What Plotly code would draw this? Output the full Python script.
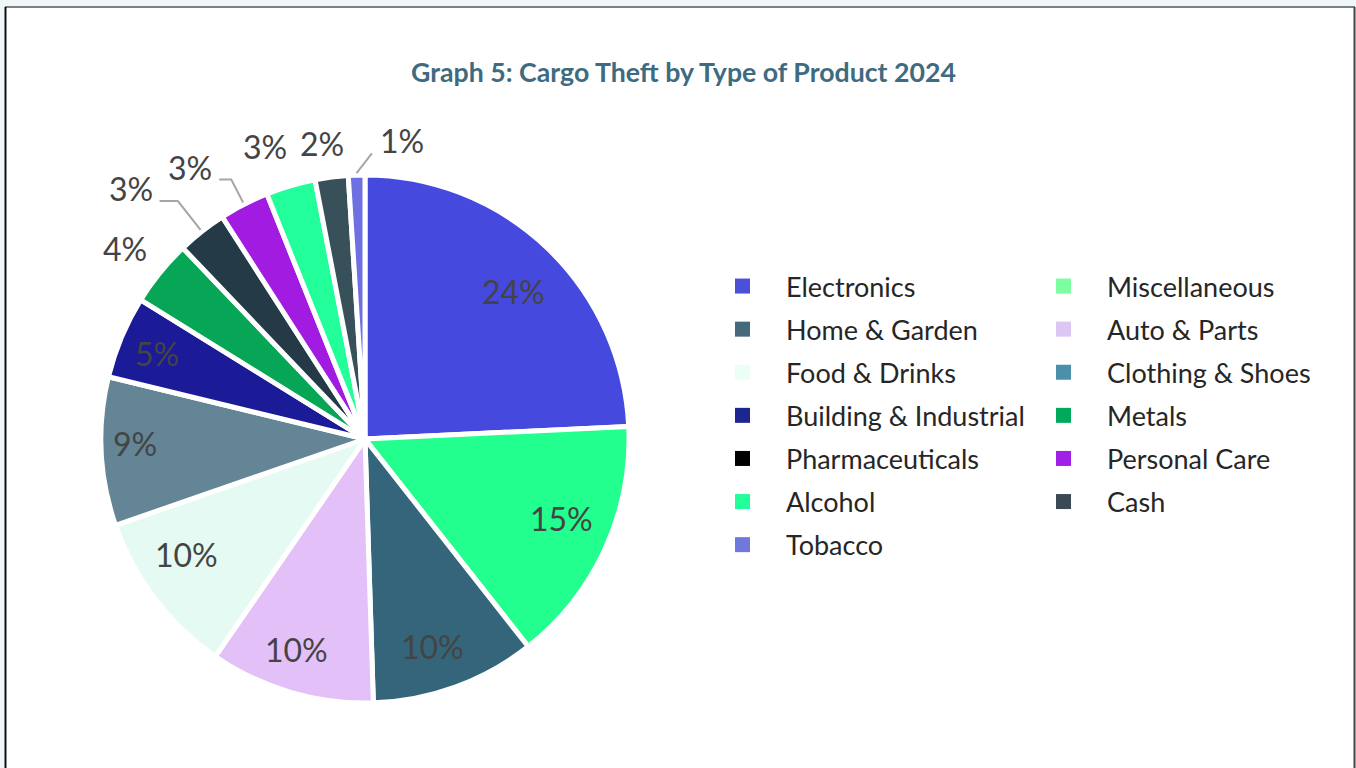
import math
import plotly.graph_objects as go

# ---- data (slice order, clockwise from 12 o'clock) ----
categories = ["Electronics", "Alcohol", "Home & Garden", "Auto & Parts", "Food & Drinks",
              "Clothing & Shoes", "Building & Industrial", "Metals", "Pharmaceuticals",
              "Personal Care", "Miscellaneous", "Cash", "Tobacco"]
shares = [24, 15, 10, 10, 10, 9, 5, 4, 3, 3, 3, 2, 1]

slice_colors = ["#4549dd", "#22ff8e", "#35657a", "#e3c1f8", "#e5faf2",
                "#638596", "#1b1b98", "#07a656", "#243b47",
                "#a11be0", "#22ff9a", "#37505a", "#6e6fe0"]

# ---- legend (as shown, two columns) ----
legend_col1 = ["Electronics", "Home & Garden", "Food & Drinks", "Building & Industrial",
               "Pharmaceuticals", "Alcohol", "Tobacco"]
legend_col1_colors = ["#4a50d8", "#466a7c", "#eafff5", "#1c2590", "#000000", "#22ff9a", "#7078dc"]
legend_col2 = ["Miscellaneous", "Auto & Parts", "Clothing & Shoes", "Metals", "Personal Care", "Cash"]
legend_col2_colors = ["#7cffa0", "#dcc6f4", "#4a90aa", "#00aa5a", "#a020e8", "#3a4a55"]

W, H = 1356, 768
cx, cy, R = 365, 439, 264          # pie centre / radius in pixels


def px(x):
    return x / W


def py(y):
    return (H - y) / H


# slice mid angles (degrees clockwise from 12 o'clock), from the data
total = sum(shares)
mids, acc = [], 0.0
for v in shares:
    mids.append((acc + v / 2) / total * 360.0)
    acc += v


def polar(angle_deg, dist):
    a = math.radians(angle_deg)
    return cx + dist * math.sin(a), cy - dist * math.cos(a)


# label placement: (angle nudge, distance from centre, connector style)
label_layout = {
    "Electronics": (1.8, 208, None),
    "Alcohol": (-2.1, 213, None),
    "Home & Garden": (2.0, 220, None),
    "Auto & Parts": (1.6, 223, None),
    "Food & Drinks": (4.0, 213, None),
    "Clothing & Shoes": (1.2, 230, None),
    "Building & Industrial": (-0.7, 224, None),
    "Metals": (-0.9, 305, None),
    "Pharmaceuticals": (-5.1, 342, "elbow"),
    "Personal Care": (-5.6, 322, "elbow"),
    "Miscellaneous": (-2.6, 308, None),
    "Cash": (-1.0, 297, None),
    "Tobacco": (8.9, 299, "straight"),
}

fig = go.Figure()
fig.add_trace(go.Pie(
    labels=categories, values=shares, sort=False, direction="clockwise", rotation=0,
    marker=dict(colors=slice_colors, line=dict(color="white", width=5)),
    textinfo="none", hoverinfo="label+percent", showlegend=False,
    domain=dict(x=[px(cx - R), px(cx + R)], y=[py(cy + R), py(cy - R)]),
))

for names, cols, lg in [(legend_col1, legend_col1_colors, "legend"),
                        (legend_col2, legend_col2_colors, "legend2")]:
    for n, c in zip(names, cols):
        fig.add_trace(go.Scatter(x=[None], y=[None], mode="markers", name=n, legend=lg,
                                 legendgroup=n,
                                 marker=dict(symbol="square", size=15, color=c),
                                 hoverinfo="skip"))

label_font = dict(family="Lato", size=32, color="#444444")
annotations, shapes = [], []
for cat, v, m in zip(categories, shares, mids):
    text = f"{v}%"
    nudge, dist, conn = label_layout[cat]
    lx, ly = polar(m + nudge, dist)
    annotations.append(dict(x=px(lx), y=py(ly - 1.5), xref="paper", yref="paper", text=text,
                            showarrow=False, xanchor="center", yanchor="middle", font=label_font))
    if conn:
        hw = 10.5 * len(text)
        x0, y0 = polar(m, R + 2)
        yq = ly + 11
        if conn == "elbow":
            t = (cy - yq) / math.cos(math.radians(m))
            xe = cx + t * math.sin(math.radians(m))
            xq = lx + hw + 8
            path = f"M{px(x0)},{py(y0)} L{px(xe)},{py(yq)} L{px(xq)},{py(yq)}"
        else:
            xq = lx - hw - 9
            path = f"M{px(x0)},{py(y0)} L{px(xq)},{py(yq)}"
        shapes.append(dict(type="path", xref="paper", yref="paper", path=path,
                           line=dict(color="#a6a6a6", width=2)))

legend_common = dict(font=dict(family="Lato", size=27, color="#262626"), bgcolor="rgba(0,0,0,0)",
                     itemsizing="trace", itemwidth=77, traceorder="grouped", tracegroupgap=5,
                     yanchor="top", xanchor="left", itemclick=False, itemdoubleclick=False)

frame = [
    dict(type="rect", xref="paper", yref="paper", x0=px(5), x1=px(1355), y0=-0.01, y1=py(7),
         fillcolor="white", line=dict(width=0), layer="below"),
    dict(type="line", xref="paper", yref="paper", x0=px(5), x1=px(1355), y0=py(7), y1=py(7),
         line=dict(color="#808080", width=2), layer="below"),
    dict(type="line", xref="paper", yref="paper", x0=px(5.5), x1=px(5.5), y0=-0.01, y1=py(7),
         line=dict(color="#111111", width=2), layer="below"),
    dict(type="line", xref="paper", yref="paper", x0=px(1354.5), x1=px(1354.5), y0=-0.01, y1=py(7),
         line=dict(color="#444444", width=2), layer="below"),
]

fig.update_layout(
    width=W, height=H,
    margin=dict(l=0, r=0, t=0, b=0),
    paper_bgcolor="#eff7f9", plot_bgcolor="rgba(0,0,0,0)",
    title=dict(text="<b>Graph 5: Cargo Theft by Type of Product 2024</b>",
               x=px(683.5), xanchor="center", y=py(73), yanchor="middle",
               font=dict(family="Lato", size=26.7, color="#3e6b80")),
    xaxis=dict(visible=False), yaxis=dict(visible=False),
    legend=dict(x=px(699), y=py(262), **legend_common),
    legend2=dict(x=px(1020), y=py(262), **legend_common),
    showlegend=True,
    shapes=frame + shapes,
    annotations=annotations,
)

fig.write_html("out.html", config={"displayModeBar": False},
               post_script="document.body.style.margin='0';document.body.style.background='#eff7f9';")
